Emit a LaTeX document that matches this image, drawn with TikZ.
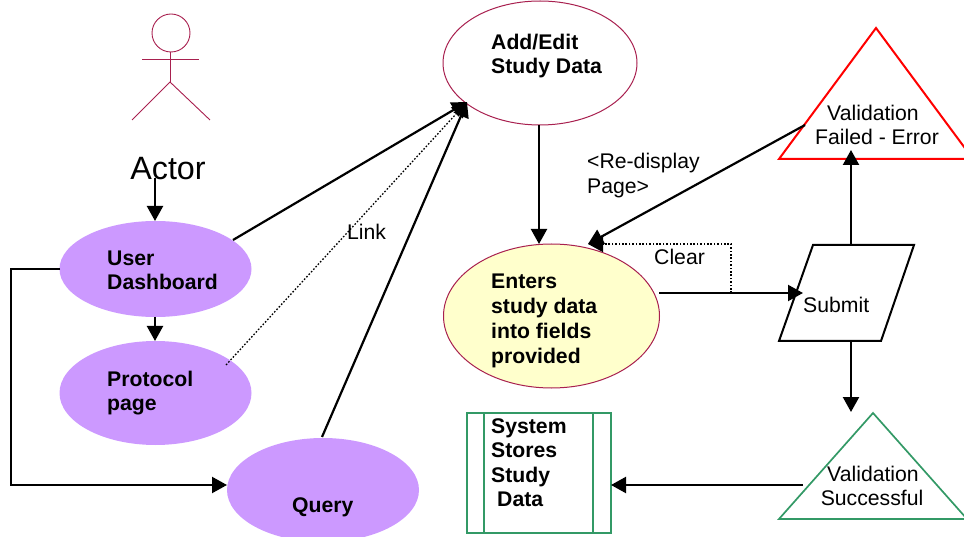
\documentclass[tikz,border=0pt]{standalone}
\usepackage{fontspec}
\setmainfont{Liberation Sans}
\usetikzlibrary{arrows.meta,shapes.geometric}
\definecolor{crim}{HTML}{A8204F}
\definecolor{purp}{HTML}{CC99FF}
\definecolor{yell}{HTML}{FFFFCC}
\definecolor{grn}{HTML}{339966}
\tikzset{
  x=1pt,y=-1pt,
  oval/.style={ellipse,inner sep=0pt,outer sep=0pt},
  purpleoval/.style={oval,fill=purp},
  lineoval/.style={oval,draw=crim,line width=1pt},
  conn/.style={line width=2.2pt,-{Triangle[length=15pt,width=16pt]}},
  dotconn/.style={line width=1.3pt,dash pattern=on 1.6pt off 1.8pt,-{Triangle[length=15pt,width=16pt]}},
  plain/.style={anchor=base west,inner sep=0pt,font=\fontsize{21.2}{24}\selectfont},
  plainc/.style={anchor=base,inner sep=0pt,font=\fontsize{21.2}{24}\selectfont},
  boldt/.style={anchor=base west,inner sep=0pt,font=\fontsize{21.2}{24}\selectfont\bfseries},
  actorline/.style={draw=crim,line width=.9pt},
}
\begin{document}
\begin{tikzpicture}
\useasboundingbox (0,0) rectangle (964,537);
\clip (0,0) rectangle (964,537);
% shapes
\node[purpleoval,minimum width=192pt,minimum height=96pt] (user) at (155.5,269) {};
\node[purpleoval,minimum width=192pt,minimum height=104pt] (protocol) at (155.5,393) {};
\node[purpleoval,minimum width=192pt,minimum height=104pt] (query) at (323,490) {};
\node[lineoval,minimum width=194pt,minimum height=124pt] (add) at (540,63) {};
\node[lineoval,fill=yell,minimum width=216pt,minimum height=144pt] (enters) at (551.5,316) {};
% actor
\draw[actorline] (171,33) circle[radius=19];
\draw[actorline] (142,59) -- (199,59);
\draw[actorline] (170,52) -- (170,82);
\draw[actorline] (132,120) -- (170,82) -- (210,120);
\node[anchor=base,inner sep=0pt,font=\fontsize{32.3}{36}\selectfont] (actor) at (168,180) {Actor};
% red triangle
\coordinate (redA) at (876,28);
\coordinate (redB) at (779,159);
\coordinate (redC) at (973,159);
\draw[red,line width=2pt,line join=miter] (redA) -- (redB) -- (redC) -- cycle;
% green triangle
\coordinate (grnA) at (873,413);
\coordinate (grnB) at (779,519);
\coordinate (grnC) at (967,519);
\draw[grn,line width=1.7pt] (grnA) -- (grnB) -- (grnC) -- cycle;
% parallelogram
\coordinate (subA) at (813,245);
\coordinate (subB) at (914,245);
\coordinate (subC) at (881,341);
\coordinate (subD) at (779,341);
\draw[line width=2pt] (subA) -- (subB) -- (subC) -- (subD) -- cycle;
% store
\node[draw=grn,line width=1.7pt,minimum width=144pt,minimum height=120pt,inner sep=0pt,outer sep=0pt] (store) at (539,473) {};
\draw[grn,line width=1.5pt] (484,413) -- (484,533) (593,413) -- (593,533);
% free connector ends
\coordinate (actorout) at (155,178);
\coordinate (usertop) at (155,221);
\coordinate (useroutA) at (233,240);
\coordinate (addin) at (467,102);
\coordinate (linkstart) at (226,365);
\coordinate (queryout) at (322,437);
\coordinate (addout) at (539,125);
\coordinate (entersin) at (539,244);
\coordinate (userleft) at (60,269);
\coordinate (bendA) at (11,269);
\coordinate (bendB) at (11,485);
\coordinate (queryin) at (227,485);
\coordinate (userbot) at (155,317);
\coordinate (prottop) at (155,341);
\coordinate (entersout) at (659,293);
\coordinate (subin) at (803,293);
\coordinate (cleartap) at (731,293);
\coordinate (clearbend) at (731,244);
\coordinate (entersback) at (588,244);
\coordinate (redout) at (805,125);
\coordinate (subtop) at (851,245);
\coordinate (redin) at (851,150);
\coordinate (subbot) at (851,341);
\coordinate (grnin) at (851,412);
\coordinate (grnout) at (803,485);
\coordinate (storein) at (611,485);
% connectors
\draw[conn] (actorout) -- (usertop);
\draw[conn] (useroutA) -- (addin);
\draw[dotconn] (linkstart) -- (addin);
\draw[conn] (queryout) -- (addin);
\draw[conn] (addout) -- (entersin);
\draw[conn] (userleft) -- (bendA) -- (bendB) -- (queryin);
\draw[conn] (userbot) -- (prottop);
\draw[conn] (entersout) -- (subin);
\draw[dotconn] (cleartap) -- (clearbend) -- (entersback);
\draw[conn] (redout) -- (entersback);
\draw[conn] (subtop) -- (redin);
\draw[conn] (subbot) -- (grnin);
\draw[conn] (grnout) -- (storein);
% labels
\node[boldt] (t1) at (107,266) {User};
\node[boldt] (t2) at (107,290) {Dashboard};
\node[boldt] (t3) at (107,386) {Protocol};
\node[boldt] (t4) at (107,410) {page};
\node[boldt] (t5) at (292,512) {Query};
\node[boldt] (t6) at (491,50) {Add/Edit};
\node[boldt] (t7) at (491,74) {Study Data};
\node[boldt] (t8) at (491,289) {Enters};
\node[boldt] (t9) at (491,314) {study data};
\node[boldt] (t10) at (491,338) {into fields};
\node[boldt] (t11) at (491,363) {provided};
\node[boldt] (t12) at (491,433) {System};
\node[boldt] (t13) at (491,457) {Stores};
\node[boldt] (t14) at (491,482) {Study};
\node[boldt] (t15) at (497,506) {Data};
\node[plain] (t16) at (347,240) {Link};
\node[plain] (t17) at (587,169) {<Re-display};
\node[plain] (t18) at (587,194) {Page>};
\node[plain] (t19) at (654,265) {Clear};
\node[plain] (t20) at (803,313) {Submit};
\node[plainc] (t21) at (873,121) {Validation};
\node[plainc] (t22) at (877,145) {Failed - Error};
\node[plainc] (t23) at (873,481) {Validation};
\node[plainc] (t24) at (872,505) {Successful};
\end{tikzpicture}
\end{document}
